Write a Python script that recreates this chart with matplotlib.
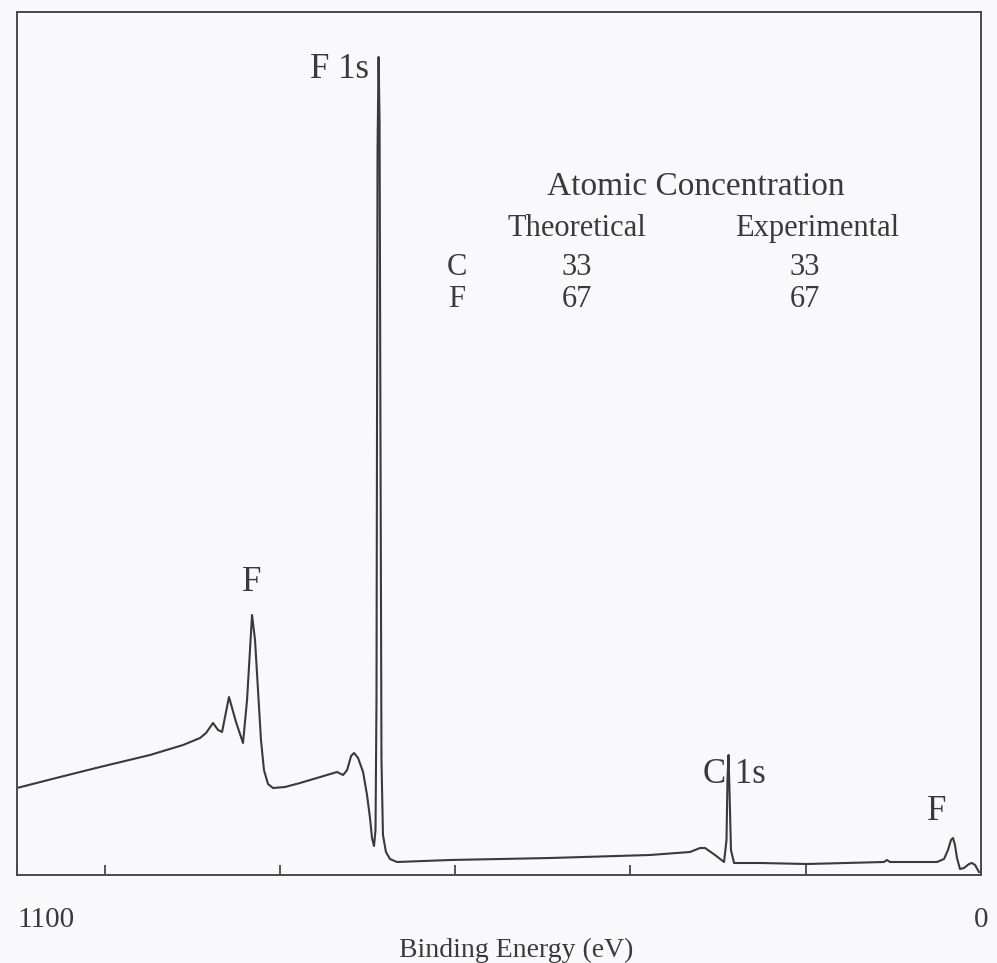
import matplotlib
matplotlib.use("Agg")
import matplotlib.pyplot as plt

# survey spectrum (binding energy in eV, intensity in a.u.)
binding_energy = [1100, 1050.9, 1005.2, 948.2, 910.5, 891.1, 884.3, 876.3, 870.6,
                  866.0, 861.5, 858.1, 850.1, 842.1, 837.5, 831.8, 828.4, 825.0,
                  821.6, 818.2, 813.6, 807.9, 794.2, 777.0, 734.8, 727.9, 723.3,
                  718.8, 715.4, 710.8, 705.1, 700.6, 697.2, 694.9, 692.6, 690.9,
                  689.8, 688.6, 687.4, 686.3, 685.2, 684.1, 682.4, 679.0, 674.4,
                  666.4, 605.9, 491.8, 377.7, 332.0, 320.6, 314.9, 303.5, 293.2,
                  290.4, 289.3, 288.1, 287.0, 285.3, 281.8, 252.2, 198.5, 110.7,
                  107.3, 103.8, 50.2, 42.2, 37.7, 34.2, 31.9, 29.7, 27.4, 24.0,
                  19.4, 13.7, 10.3, 6.8, 2.3]
intensity = [87, 98, 108, 120, 130, 137, 142, 152, 145,
             143, 163, 178, 153, 132, 175, 260, 235, 185,
             135, 105, 91, 87, 88, 92, 103, 100, 105,
             119, 122, 117, 103, 80, 57, 37, 29, 45,
             175, 725, 818, 755, 425, 115, 40, 23, 16,
             13, 15, 17, 20, 23, 27, 27, 20, 13,
             35, 95, 120, 85, 25, 12, 12, 11, 13,
             15, 13, 13, 16, 25, 35, 37, 30, 17, 6,
             7, 11, 12, 10, 3]

# peak labels (text, binding energy, intensity)
peak_labels = ["F 1s", "F", "C 1s", "F"]
peak_label_be = [732.5, 831.8, 281.8, 50.2]
peak_label_int = [805, 292, 100, 63]

# atomic concentration table
table_title = "Atomic Concentration"
table_columns = ["Theoretical", "Experimental"]
elements = ["C", "F"]
theoretical = [33, 67]
experimental = [33, 67]

ink = "#3a3a3a"
plt.rcParams['font.family'] = ['Liberation Serif', 'DejaVu Serif']

fig = plt.figure(figsize=(9.97, 9.63), dpi=100, facecolor="#f9f9fb")
ax = fig.add_axes([0.01705, 0.09138, 0.9669, 0.8962])
ax.set_facecolor("#f9f9fb")

ax.plot(binding_energy, intensity, color=ink, lw=1.5, solid_joinstyle="round")

ax.set_xlim(1100, 0)
ax.set_ylim(0, 863)
ax.set_yticks([])

ticks = [1100, 1000, 800, 600, 400, 200, 0]
ax.set_xticks(ticks)
ax.set_xticklabels(["1100", "", "", "", "", "", "0"])
ax.tick_params(axis="x", direction="in", length=7, width=1.2, color=ink,
               labelsize=21, labelcolor=ink, pad=23)
labels = ax.get_xticklabels()
labels[0].set_horizontalalignment("left")
labels[-1].set_horizontalalignment("center")

for s in ax.spines.values():
    s.set_color("#4a4a4a")
    s.set_linewidth(1.4)

ax.set_xlabel("Binding Energy (eV)", fontsize=20, color=ink)
ax.xaxis.set_label_coords(0.5176, -0.087)
ax.xaxis.label.set_verticalalignment("center")

for txt, be, yy in zip(peak_labels, peak_label_be, peak_label_int):
    ax.text(be, yy, txt, fontsize=25, color=ink, ha="center", va="center")

# table of concentrations, in axes fractions
ax.text(0.7044, 0.7972, table_title, transform=ax.transAxes, fontsize=24,
        color=ink, ha="center", va="center")
col_x = [0.5809, 0.8174]
head_x = [0.5809, 0.8299]
for cx, name in zip(head_x, table_columns):
    ax.text(cx, 0.7486, name, transform=ax.transAxes, fontsize=22,
            color=ink, ha="center", va="center")
row_y = [0.7034, 0.6674]
for ry, el, th, ex in zip(row_y, elements, theoretical, experimental):
    ax.text(0.4564, ry, el, transform=ax.transAxes, fontsize=22, color=ink,
            ha="center", va="center")
    ax.text(col_x[0], ry, str(th), transform=ax.transAxes, fontsize=22,
            color=ink, ha="center", va="center")
    ax.text(col_x[1], ry, str(ex), transform=ax.transAxes, fontsize=22,
            color=ink, ha="center", va="center")

fig.savefig("out.png", dpi=100, facecolor=fig.get_facecolor())
